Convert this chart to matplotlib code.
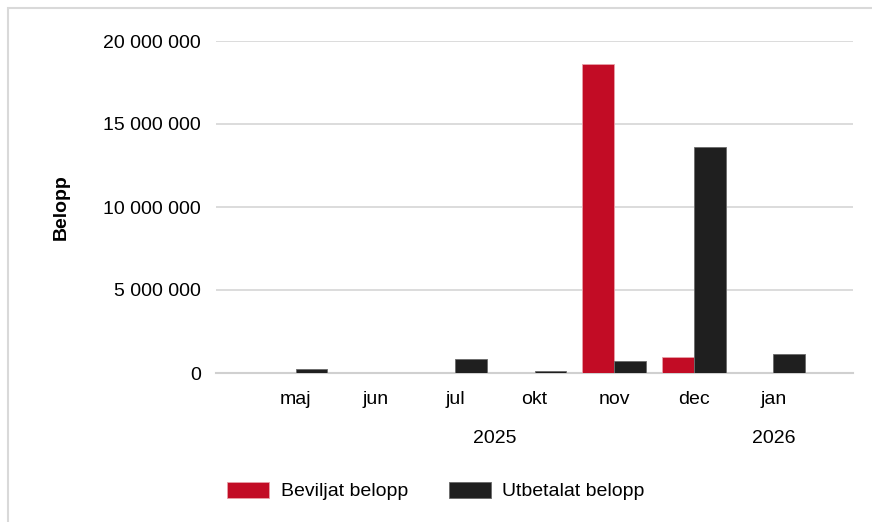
import numpy as np
from matplotlib import pyplot as plt
from matplotlib.patches import Rectangle

months = ['maj', 'jun', 'jul', 'okt', 'nov', 'dec', 'jan']
years = ['2025', '2026']
year_pos = [2.5, 6]
beviljat = [0, 0, 0, 0, 18600000, 960000, 0]
utbetalat = [250000, 30000, 850000, 120000, 720000, 13600000, 1150000]

plt.rcParams['font.family'] = ['Liberation Sans', 'DejaVu Sans']
fs = 14

fig = plt.figure(figsize=(8.72, 5.22), dpi=100)
ax = fig.add_axes([216 / 872, 1 - 373 / 522, (853 - 216) / 872, (373 - 41) / 522])

x = np.arange(len(months))
w = 0.4
ax.bar(x - w / 2, beviljat, w, color='#c20c25', label='Beviljat belopp',
       edgecolor='#e8a0a8', linewidth=0.6, zorder=3)
ax.bar(x + w / 2, utbetalat, w, color='#1f1f1f', label='Utbetalat belopp',
       edgecolor='#6a6a6a', linewidth=0.6, zorder=3)

ax.set_xlim(-1, 7)
ax.set_ylim(0, 20000000)
yt = np.arange(0, 20000001, 5000000)
ax.set_yticks(yt)
ax.set_yticklabels([f'{v:,}'.replace(',', ' ') for v in yt], fontsize=fs)
ax.set_xticks(x)
ax.set_xticklabels(months, fontsize=fs)
ax.tick_params(axis='both', length=0)
ax.tick_params(axis='x', pad=13)
ax.tick_params(axis='y', pad=11)

ax.grid(axis='y', color='#d9d9d9', linewidth=1.3, zorder=0)
for s in ['top', 'right', 'left']:
    ax.spines[s].set_visible(False)
ax.spines['bottom'].set_color('#d0d0d0')
ax.spines['bottom'].set_linewidth(1.5)

for yr, p in zip(years, year_pos):
    ax.text(p, -3950000, yr, ha='center', va='center', fontsize=fs)

ax.set_ylabel('Belopp', fontsize=fs, fontweight='bold')
ax.yaxis.set_label_coords(-(216 - 70) / 637, 0.5)

fig.legend(loc='center', bbox_to_anchor=(436 / 872, 1 - 491 / 522), ncol=2,
           frameon=False, fontsize=fs, handlelength=2.15, handleheight=0.9,
           columnspacing=2.1, handletextpad=0.6)

fig.patches.append(Rectangle((8 / 872, -0.1), 1.2, 1 - 8 / 522 + 0.1,
                             transform=fig.transFigure, fill=False,
                             edgecolor='#d9d9d9', linewidth=1.5))

plt.savefig('out.png')
